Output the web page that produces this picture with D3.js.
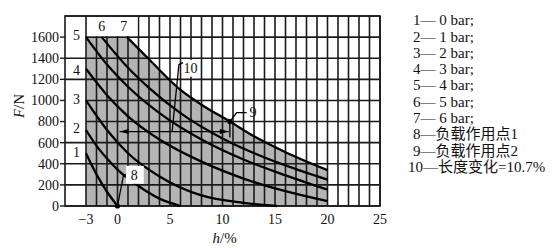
<!DOCTYPE html>
<html><head><meta charset="utf-8">
<script src="https://cdn.jsdelivr.net/npm/d3@7"></script>
<style>
body{margin:0;background:#fff;}
text{font-family:"Liberation Serif","Noto Sans CJK SC",serif;fill:#111;}
</style></head>
<body><svg id="c" width="559" height="248"></svg>
<script>
// ---- data ----
const hTicks = [-3, 0, 5, 10, 15, 20, 25];
const fTicks = [0, 200, 400, 600, 800, 1000, 1200, 1400, 1600];
// curves [h (%), F (N)]
const curve0bar = [[-3,500],[-2,300],[-1,135],[0,0]];
const curve1bar = [[-3,720],[-2,570],[-1,450],[0,345],[2,190],[4,70],[6,0]];
const curve2bar = [[-3,1000],[-1,720],[1,500],[4,280],[8,100],[12,30],[15.2,0]];
const curve3bar = [[-3,1300],[-1,1050],[1,850],[4,630],[8,420],[12,260],[16,140],[20,45]];
const curve4bar = [[-3,1600],[-1,1340],[1,1130],[4,880],[8,630],[12,440],[16,290],[20,155]];
const curve5bar = [[-1.5,1600],[1,1310],[3,1120],[6,880],[10,640],[14,460],[17,350],[20,250]];
const curve6bar = [[0.9,1600],[3,1390],[6,1100],[8,960],[10.7,800],[13,660],[16,510],[20,340]];
const curves = [curve0bar, curve1bar, curve2bar, curve3bar, curve4bar, curve5bar, curve6bar];
const curveLabels = ["1","2","3","4","5","6","7"];
const curveLabelPos = [[-3.9,510],[-3.9,740],[-3.9,1015],[-3.9,1290],[-3.9,1620],[-1.5,1700],[0.6,1700]];
const legend = ["1— 0 bar;","2— 1 bar;","3— 2 bar;","4— 3 bar;","5— 4 bar;","6— 5 bar;","7— 6 bar;","8—负载作用点1","9—负载作用点2","10—长度变化=10.7%"];
const point8 = [0, 0];
const point9 = [10.7, 800];
const dimF = 705;

// ---- scales ----
const svg = d3.select("#c");
const x = d3.scaleLinear().domain([-5, 25]).range([65, 380]);
const y = d3.scaleLinear().domain([0, 1800]).range([206, 16]);
const gridCol = "#1a1a1a";

// shaded feasible region
const fill = "#b4b4b4";
svg.append("rect").attr("x", x(-3)).attr("y", y(1600))
  .attr("width", x(curve6bar[0][0]) - x(-3)).attr("height", y(0) - y(1600)).attr("fill", fill);
const lineGen = d3.line().x(d => x(d[0])).y(d => y(d[1])).curve(d3.curveMonotoneX);
const areaGen = d3.area().x(d => x(d[0])).y0(y(0)).y1(d => y(d[1])).curve(d3.curveMonotoneX);
svg.append("path").attr("d", areaGen(curve6bar)).attr("fill", fill);

// vertical grid
const g = svg.append("g").attr("stroke", gridCol).attr("stroke-width", 1.6);
d3.range(-3, 26).forEach(h => {
  g.append("line").attr("x1", x(h)).attr("x2", x(h)).attr("y1", y(0)).attr("y2", y(1800));
});
// horizontal grid
d3.range(0, 1801, 200).forEach(f => {
  const skipLeft = (f === 1600 || f === 1000 || f === 800);
  g.append("line").attr("x1", skipLeft ? x(-3) : x(-5)).attr("x2", x(25)).attr("y1", y(f)).attr("y2", y(f));
});
// white box in top row for labels 6,7
svg.append("rect").attr("x", x(-3) + 1).attr("y", y(1800) + 1)
  .attr("width", x(2) - x(-3) - 2).attr("height", y(1600) - y(1800) - 2).attr("fill", "#fff");
// frame
svg.append("rect").attr("x", x(-5)).attr("y", y(1800)).attr("width", x(25) - x(-5))
  .attr("height", y(0) - y(1800)).attr("fill", "none").attr("stroke", gridCol).attr("stroke-width", 1.6);

// y ticks
fTicks.forEach(f => {
  svg.append("line").attr("x1", x(-5) - 5).attr("x2", x(-5)).attr("y1", y(f)).attr("y2", y(f))
    .attr("stroke", gridCol).attr("stroke-width", 1.4);
  svg.append("text").attr("x", x(-5) - 6).attr("y", y(f)).attr("dy", "0.35em")
    .attr("text-anchor", "end").attr("font-size", 14).text(f);
});
// x tick labels
hTicks.forEach(h => {
  svg.append("text").attr("x", x(h)).attr("y", 224).attr("text-anchor", "middle")
    .attr("font-size", 14).text(h < 0 ? "−" + Math.abs(h) : h);
});
// axis titles
const ft = svg.append("text").attr("transform", "translate(24,106) rotate(-90)")
  .attr("text-anchor", "middle").attr("font-size", 15);
ft.append("tspan").attr("font-style", "italic").text("F");
ft.append("tspan").text("/N");
const ht = svg.append("text").attr("x", x(10.2)).attr("y", 243).attr("text-anchor", "middle").attr("font-size", 15);
ht.append("tspan").attr("font-style", "italic").text("h");
ht.append("tspan").text("/%");

// curves
curves.forEach(c => {
  svg.append("path").attr("d", lineGen(c)).attr("fill", "none")
    .attr("stroke", "#000").attr("stroke-width", 2.3);
});
// curve labels
curveLabels.forEach((t, i) => {
  svg.append("text").attr("x", x(curveLabelPos[i][0])).attr("y", y(curveLabelPos[i][1]))
    .attr("dy", "0.35em").attr("text-anchor", "middle").attr("font-size", 14).text(t);
});

// annotation: point 8
const ann = svg.append("g").attr("stroke", "#000").attr("fill", "none").attr("stroke-width", 1.3);
const plain = d3.line().x(d => x(d[0])).y(d => y(d[1]));
ann.append("path").attr("d", plain([point8, [0.55, 280], [0.8, 300]]));
svg.append("rect").attr("x", x(0.8)).attr("y", y(380)).attr("width", x(2.5) - x(0.8))
  .attr("height", y(210) - y(380)).attr("fill", "#fff");
svg.append("text").attr("x", x(1.6)).attr("y", y(295)).attr("dy", "0.35em")
  .attr("text-anchor", "middle").attr("font-size", 14).text("8");
svg.append("circle").attr("cx", x(point8[0])).attr("cy", y(point8[1])).attr("r", 2.6).attr("fill", "#000");

// annotation: point 9
ann.append("path").attr("d", plain([point9, [11.35, 885], [12.3, 885]]));
svg.append("text").attr("x", x(12.9)).attr("y", y(885)).attr("dy", "0.35em")
  .attr("text-anchor", "middle").attr("font-size", 14).text("9");
ann.append("path").attr("d", plain([point9, [point9[0], 650]]));
svg.append("circle").attr("cx", x(point9[0])).attr("cy", y(point9[1])).attr("r", 2.6).attr("fill", "#000");

// dimension line (length change) with arrows
ann.append("path").attr("d", plain([[0.2, dimF], [point9[0] - 0.1, dimF]]));
const arrow = (tip, dir) => {
  const px = x(tip), py = y(dimF);
  svg.append("path").attr("d", `M${px},${py} L${px - dir * 9},${py - 2.5} L${px - dir * 9},${py + 2.5} Z`)
    .attr("fill", "#000");
};
arrow(0.2, -1);
arrow(point9[0] - 0.1, 1);

// annotation: label 10
ann.append("path").attr("d", plain([[6.3, 1360], [5.85, 1340], [5.2, dimF]]));
svg.append("rect").attr("x", x(6.25)).attr("y", y(1385)).attr("width", x(7.7) - x(6.25))
  .attr("height", y(1225) - y(1385)).attr("fill", "#fff");
svg.append("text").attr("x", x(6.95)).attr("y", y(1305)).attr("dy", "0.35em")
  .attr("text-anchor", "middle").attr("font-size", 14).text("10");

// legend
legend.forEach((t, i) => {
  svg.append("text").attr("x", i === 9 ? 408 : 413).attr("y", 20 + i * 16.3).attr("dy", "0.35em")
    .attr("font-size", 15).text(t);
});
</script></body></html>
